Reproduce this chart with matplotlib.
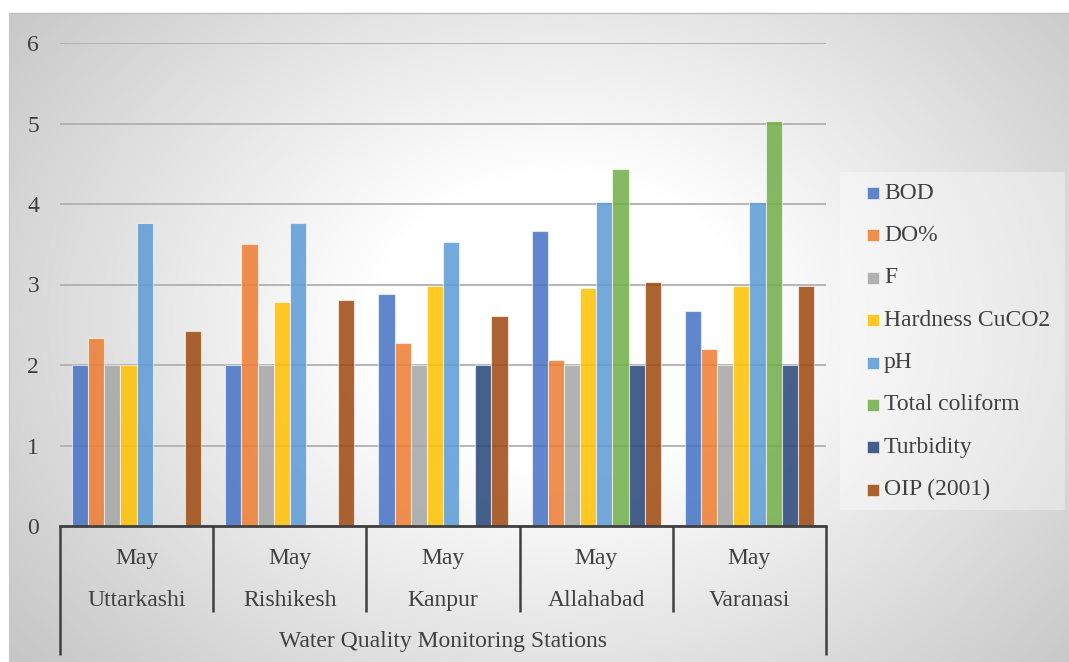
import numpy as np
import matplotlib
matplotlib.use("Agg")
import matplotlib.pyplot as plt
from matplotlib.patches import Rectangle
from matplotlib.colors import to_rgba
import matplotlib.transforms as mtrans

# ---------------- data ----------------
stations = ["Uttarkashi", "Rishikesh", "Kanpur", "Allahabad", "Varanasi"]
months = ["May", "May", "May", "May", "May"]
axis_title = "Water Quality Monitoring Stations"
series_names = ["BOD", "DO%", "F", "Hardness CuCO2", "pH",
                "Total coliform", "Turbidity", "OIP (2001)"]
bod = [2.0, 2.0, 2.88, 3.67, 2.67]
do_pct = [2.33, 3.50, 2.27, 2.06, 2.20]
f_vals = [2.0, 2.0, 2.0, 2.0, 2.0]
hardness = [2.0, 2.78, 2.98, 2.96, 2.98]
ph = [3.76, 3.76, 3.53, 4.03, 4.03]
total_coliform = [np.nan, np.nan, np.nan, 4.43, 5.03]
turbidity = [np.nan, np.nan, 2.0, 2.0, 2.0]
oip = [2.42, 2.81, 2.61, 3.03, 2.98]
series_values = [bod, do_pct, f_vals, hardness, ph, total_coliform, turbidity, oip]
colors = ["#4472C4", "#ED7D31", "#A5A5A5", "#FFC000", "#5B9BD5",
          "#70AD47", "#264478", "#9E480E"]
yticks = [0, 1, 2, 3, 4, 5, 6]

plt.rcParams["font.family"] = ["Liberation Serif", "DejaVu Serif"]

W, H = 1069, 662
fig = plt.figure(figsize=(W / 100, H / 100), dpi=100)
fig.patch.set_facecolor("white")

def fx(px):
    return px / W

def fy(py):
    return 1 - py / H

# ---------------- background gradient ----------------
bg = fig.add_axes([0, 0, 1, 1])
bg.set_zorder(-5)
yy, xx = np.mgrid[0:H, 0:W]
cx, cy = 560.0, 320.0
r = np.sqrt((xx - cx) ** 2 + ((yy - cy) * 1.3) ** 2)
dark = np.clip((r - 190.0) * 0.112, 0, 57)
val = (255 - dark) / 255.0
val[(xx < 9) | (yy < 13)] = 1.0
img = np.dstack([val, val, val])
bg.imshow(img, extent=[0, 1, 0, 1], aspect="auto", interpolation="bilinear")
bg.set_xlim(0, 1)
bg.set_ylim(0, 1)
bg.axis("off")
# chart border
fig.add_artist(plt.Line2D([fx(9), fx(W)], [fy(13), fy(13)], color="#BFBFBF", lw=1.0))
fig.add_artist(plt.Line2D([fx(9), fx(9)], [fy(13), 0], color="#C8C8C8", lw=0.8))

# ---------------- main axes ----------------
left, right, top, bottom = 60, 826, 43, 526
ax = fig.add_axes([fx(left), fy(bottom), fx(right) - fx(left), (bottom - top) / H])
ax.set_facecolor("none")
ax.set_xlim(-0.5, len(stations) - 0.5)
ax.set_ylim(0, 6)

step = 16.15 / ((right - left) / len(stations))
x = np.arange(len(stations))
n = len(series_names)
for j, (name, vals, c) in enumerate(zip(series_names, series_values, colors)):
    ax.bar(x + (j - (n - 1) / 2) * step, vals, width=step,
           facecolor=to_rgba(c, 0.85), edgecolor=to_rgba("white", 0.6),
           linewidth=0.8, zorder=3, label=name)

ax.set_yticks(yticks)
ax.yaxis.grid(True, color="#B0B0B0", lw=1.3, zorder=1)
ax.set_axisbelow(True)
ax.set_xticks([])
ax.tick_params(axis="y", length=0, pad=15, labelsize=17, labelcolor="#404040")
for s in ["top", "right", "left"]:
    ax.spines[s].set_visible(False)
ax.spines["bottom"].set_color("#404040")
ax.spines["bottom"].set_linewidth(2.0)
ax.spines["bottom"].set_zorder(4)

# multi-level category axis
trans = mtrans.blended_transform_factory(ax.transData, ax.transAxes)
hpx = bottom - top
inner_bot = -(612 - bottom) / hpx
outer_bot = -(655 - bottom) / hpx
for k in range(len(stations) + 1):
    xb = k - 0.5
    yb = outer_bot if k in (0, len(stations)) else inner_bot
    ax.plot([xb, xb], [0, yb], transform=trans, color="#404040", lw=1.8,
            clip_on=False, solid_capstyle="butt")
for i, (m, s) in enumerate(zip(months, stations)):
    ax.text(i, -(564 - bottom) / hpx, m, transform=trans, ha="center", va="baseline",
            fontsize=17, color="#404040")
    ax.text(i, -(606 - bottom) / hpx, s, transform=trans, ha="center", va="baseline",
            fontsize=17, color="#404040")
ax.text((len(stations) - 1) / 2, -(647 - bottom) / hpx, axis_title, transform=trans,
        ha="center", va="baseline", fontsize=17, color="#404040")

# ---------------- legend ----------------
fig.add_artist(Rectangle((fx(840), fy(510)), fx(1065) - fx(840), (510 - 172) / H,
                         transform=fig.transFigure, facecolor="white", alpha=0.35,
                         edgecolor="none", zorder=1))
row0, dy = 193, 42.4
for j, (name, c) in enumerate(zip(series_names, colors)):
    yc = row0 + j * dy
    fig.add_artist(Rectangle((fx(867), fy(yc + 6)), 12 / W, 12 / H,
                             transform=fig.transFigure, facecolor=to_rgba(c, 0.85),
                             edgecolor=to_rgba("white", 0.6), lw=0.6, zorder=2))
    fig.text(fx(884), fy(yc), name, ha="left", va="center", fontsize=17,
             color="#404040", zorder=3)

fig.savefig("out.png", dpi=100)
